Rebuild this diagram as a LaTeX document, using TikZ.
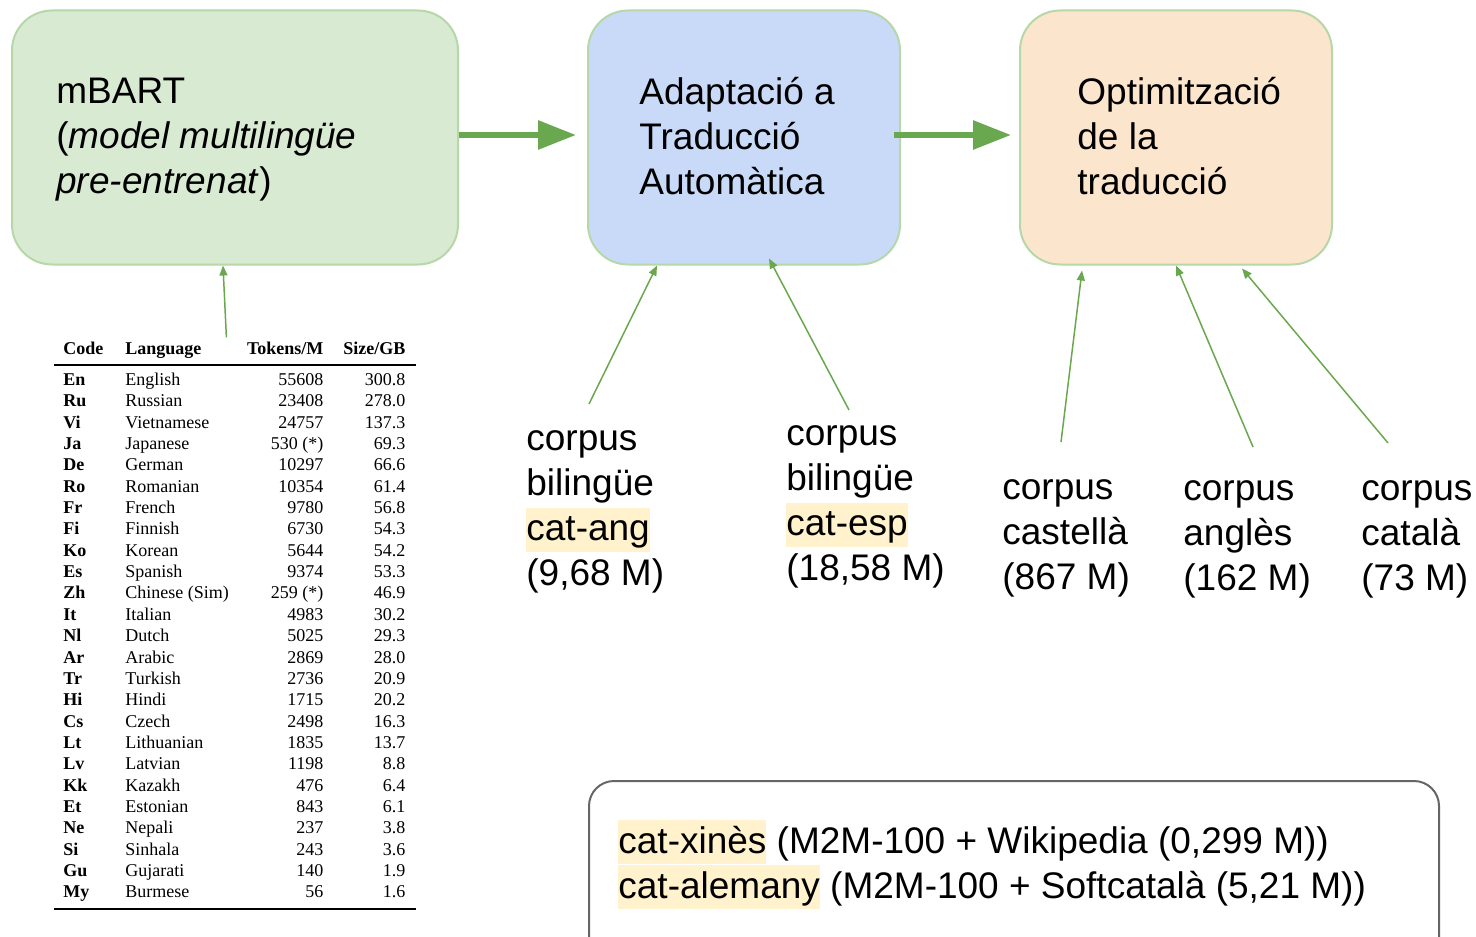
\documentclass[tikz,border=0pt]{standalone}
\usepackage{fontspec}
\setmainfont{Liberation Sans}
\newfontfamily\tabfont{Liberation Serif}
\usepackage{array,booktabs}
\usetikzlibrary{arrows.meta,positioning,calc}
\definecolor{mbartfill}{HTML}{D9EAD3}
\definecolor{adaptfill}{HTML}{C9DAF8}
\definecolor{optimfill}{HTML}{FCE5CD}
\definecolor{boxline}{HTML}{B6D7A8}
\definecolor{arrowgreen}{HTML}{6AA84F}
\definecolor{hlyellow}{HTML}{FFF2CC}
\definecolor{notegray}{HTML}{666666}
\newcommand{\hlt}[1]{{\setlength{\fboxsep}{0pt}\colorbox{hlyellow}{\rule[-5.5pt]{0pt}{22pt}#1}}}

\begin{document}
\begin{tikzpicture}[x=0.5pt,y=-0.5pt,
  stage/.style={draw=boxline,line width=1pt,rounded corners=20pt,
    minimum width=#1,minimum height=127pt,inner sep=0pt},
  lbl/.style={inner sep=0pt,align=left,anchor=north west,
    font=\fontsize{18.5pt}{22.5pt}\selectfont},
  bigarrow/.style={draw=arrowgreen,line width=3pt,
    -{Triangle[length=19pt,width=14pt]}},
  thinarrow/.style={draw=arrowgreen,line width=0.75pt,
    -{Triangle[length=5pt,width=4pt]}}]
\useasboundingbox (0,0) rectangle (1476,936);

\node[stage=223pt,fill=mbartfill] (mbart) at (235,137.5) {};
\node[stage=156pt,fill=adaptfill] (adapt) at (744,137.5) {};
\node[stage=156pt,fill=optimfill] (optim) at (1176,137.5) {};

\node[lbl] (mbarttxt) at ([shift={(45,68)}]mbart.north west)
  {mBART\\(\textit{model multilingüe}\\\textit{pre-entrenat})};
\node[lbl] (adapttxt) at ([shift={(52,67)}]adapt.north west)
  {Adaptació a\\Traducció\\Automàtica};
\node[lbl] (optimtxt) at ([shift={(58,67)}]optim.north west)
  {Optimització\\de la\\traducció};

\draw[bigarrow] ([yshift=1.25pt]mbart.east) -- ([shift={(-11,-2.5)}]adapt.west);
\draw[bigarrow] ([shift={(-7,-2.5)}]adapt.east) -- ([shift={(-8,-2.5)}]optim.west);

\node[anchor=north west,inner sep=0pt,font=\tabfont\fontsize{9pt}{11.13pt}\selectfont]
  (langtab) at (54,339.4) {%
\setlength{\aboverulesep}{1.66pt}\setlength{\belowrulesep}{2.3pt}%
\renewcommand{\arraystretch}{0.959}%
\begin{tabular}{@{\hspace{4.5pt}}>{\bfseries}p{31pt}@{}p{59pt}@{}%
>{\raggedleft\arraybackslash}p{40pt}@{}>{\raggedleft\arraybackslash}p{41pt}@{\hspace{5.5pt}}}
Code & \textbf{Language} & \textbf{Tokens/M} & \textbf{Size/GB}\\
\midrule[0.75pt]
En & English & 55608 & 300.8\\
Ru & Russian & 23408 & 278.0\\
Vi & Vietnamese & 24757 & 137.3\\
Ja & Japanese & 530 (*) & 69.3\\
De & German & 10297 & 66.6\\
Ro & Romanian & 10354 & 61.4\\
Fr & French & 9780 & 56.8\\
Fi & Finnish & 6730 & 54.3\\
Ko & Korean & 5644 & 54.2\\
Es & Spanish & 9374 & 53.3\\
Zh & Chinese (Sim) & 259 (*) & 46.9\\
It & Italian & 4983 & 30.2\\
Nl & Dutch & 5025 & 29.3\\
Ar & Arabic & 2869 & 28.0\\
Tr & Turkish & 2736 & 20.9\\
Hi & Hindi & 1715 & 20.2\\
Cs & Czech & 2498 & 16.3\\
Lt & Lithuanian & 1835 & 13.7\\
Lv & Latvian & 1198 & 8.8\\
Kk & Kazakh & 476 & 6.4\\
Et & Estonian & 843 & 6.1\\
Ne & Nepali & 237 & 3.8\\
Si & Sinhala & 243 & 3.6\\
Gu & Gujarati & 140 & 1.9\\
My & Burmese & 56 & 1.6\\
\bottomrule[1pt]
\end{tabular}};
\draw[thinarrow] ([shift={(-9,-2)}]langtab.north) -- ([xshift=-6pt]mbart.south);

\node[lbl] (cang) at (526,430.5) {corpus\\bilingüe\\\hlt{cat-ang}\\(9,68 M)};
\node[lbl] (cesp) at (786,425.5) {corpus\\bilingüe\\\hlt{cat-esp}\\(18,58 M)};
\node[lbl] (ccast) at (1002,479.5) {corpus\\castellà\\(867 M)};
\node[lbl] (cangl) at (1183,480.5) {corpus\\anglès\\(162 M)};
\node[lbl] (ccat) at (1361,480.5) {corpus\\català\\(73 M)};

\draw[thinarrow] ([shift={(63,-26.5)}]cang.north west) -- ([xshift=35pt]adapt.south west);
\draw[thinarrow] ([shift={(63,-15.5)}]cesp.north west) -- ([shift={(182,-7)}]adapt.south west);
\draw[thinarrow] ([shift={(59,-37.5)}]ccast.north west) -- ([shift={(63,5)}]optim.south west);
\draw[thinarrow] ([shift={(70,-33.5)}]cangl.north west) -- ([shift={(157,0)}]optim.south west);
\draw[thinarrow] ([shift={(27,-37.5)}]ccat.north west) -- ([shift={(223,3)}]optim.south west);

\node[draw=notegray,line width=1pt,fill=white,rounded corners=12.5pt,anchor=north west,
  minimum width=425pt,minimum height=120pt,inner sep=0pt] (notes) at (588,780) {};
\node[lbl] (notestxt) at ([shift={(30,40)}]notes.north west)
  {\hlt{cat-xinès} (M2M-100 + Wikipedia (0,299 M))\\
   \hlt{cat-alemany} (M2M-100 + Softcatalà (5,21 M))};
\end{tikzpicture}
\end{document}
